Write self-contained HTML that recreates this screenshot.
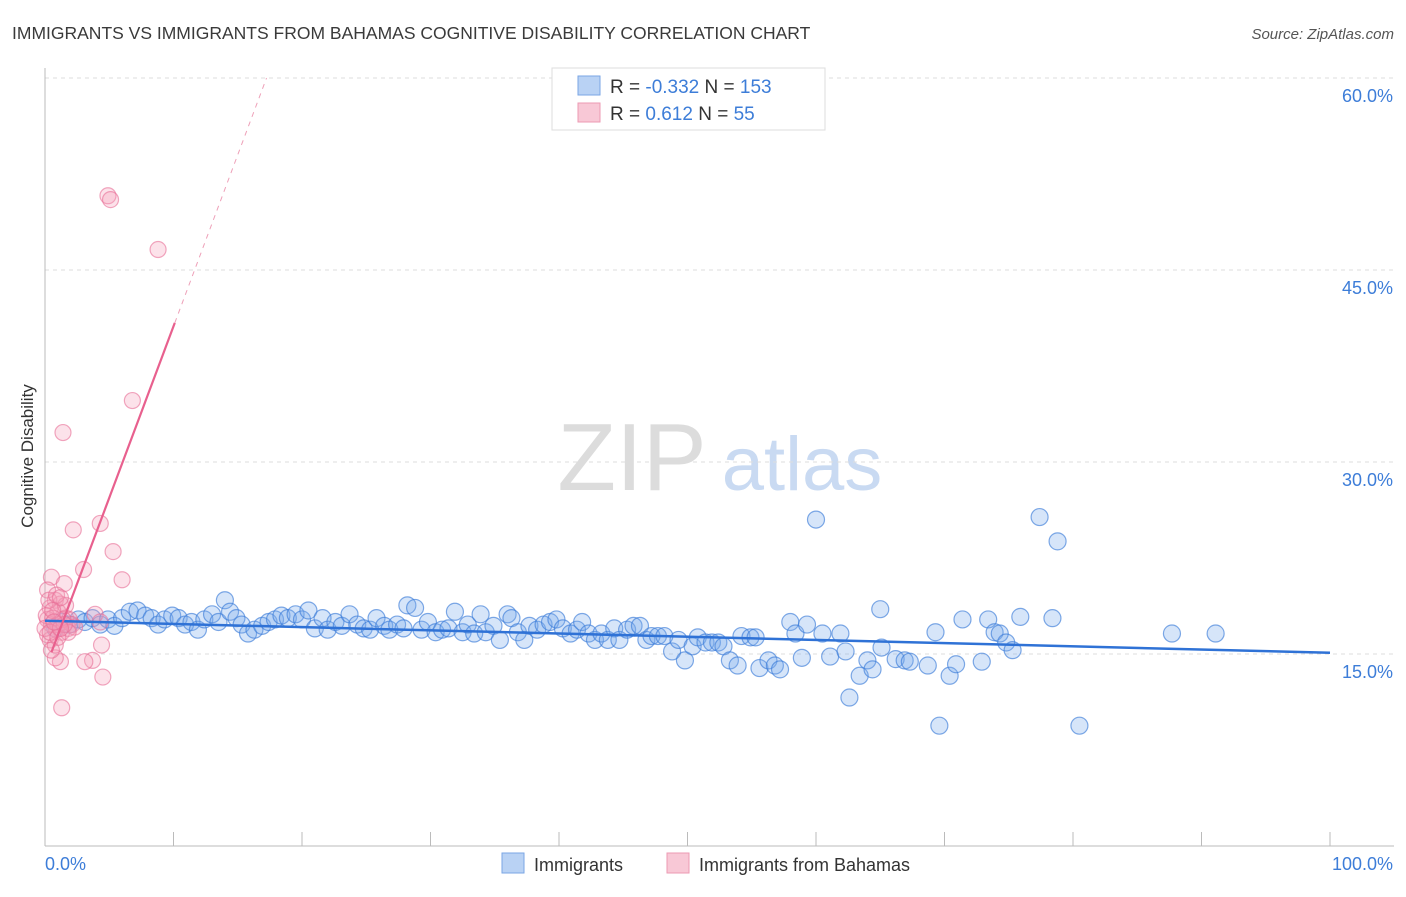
<!DOCTYPE html>
<html><head><meta charset="utf-8"><style>
body{margin:0;background:#fff;font-family:"Liberation Sans",sans-serif;}
svg text{font-family:"Liberation Sans",sans-serif;}
</style></head><body>
<svg width="1406" height="892" viewBox="0 0 1406 892">
<text x="12" y="39" font-size="17.5" fill="#3a3a3a">IMMIGRANTS VS IMMIGRANTS FROM BAHAMAS COGNITIVE DISABILITY CORRELATION CHART</text>
<text x="1394" y="39" font-size="15" fill="#555" font-style="italic" text-anchor="end">Source: ZipAtlas.com</text>
<g>
<text x="632" y="490" font-size="96" fill="#dcdcdc" font-family="Liberation Serif, serif" text-anchor="middle">ZIP</text>
<text x="802" y="490" font-size="76" fill="#c9daf2" text-anchor="middle">atlas</text>
</g>
<g id="grid"></g>
<g id="axes"></g>
<g id="pts"></g>
<g id="trend"></g>
<text transform="translate(33,456) rotate(-90)" font-size="17" fill="#333" text-anchor="middle">Cognitive Disability</text>
<g>
<rect x="552" y="68" width="273" height="62" fill="#fff" stroke="#ddd"/>
<rect x="578" y="76" width="22" height="19" fill="#b9d2f4" stroke="#7aa6e4"/>
<rect x="578" y="103" width="22" height="19" fill="#f8c8d6" stroke="#ec9ab3"/>
<text x="610" y="93" font-size="19" fill="#333">R = <tspan fill="#3d7dd8">-0.332</tspan>   N = <tspan fill="#3d7dd8">153</tspan></text>
<text x="610" y="120" font-size="19" fill="#333">R =   <tspan fill="#3d7dd8">0.612</tspan>   N =   <tspan fill="#3d7dd8">55</tspan></text>
</g>
<g>
<rect x="502" y="853" width="22" height="20" fill="#b9d2f4" stroke="#7aa6e4"/>
<text x="534" y="871" font-size="18" fill="#333">Immigrants</text>
<rect x="667" y="853" width="22" height="20" fill="#f8c8d6" stroke="#ec9ab3"/>
<text x="699" y="871" font-size="18" fill="#333">Immigrants from Bahamas</text>
</g>
</svg>
<script>
const yTicks=[15,30,45,60];
const yTickLabels=["15.0%","30.0%","45.0%","60.0%"];
const xTickLabels=["0.0%","100.0%"];
const blueX=[0.8,1.3,1.9,2.6,3.1,3.7,4.3,4.9,5.4,6.0,6.6,7.2,7.8,8.3,8.8,9.3,9.9,10.4,10.9,11.4,11.9,12.4,13.0,13.5,14.0,14.4,14.9,15.3,15.8,16.3,16.9,17.4,17.9,18.4,18.9,19.5,20.0,20.5,21.0,21.6,22.0,22.6,23.1,23.7,24.3,24.8,25.3,25.8,26.4,26.8,27.4,27.9,28.2,28.8,29.3,29.8,30.4,30.9,31.4,31.9,32.5,32.9,33.4,33.9,34.3,34.9,35.4,36.0,36.3,36.8,37.3,37.7,38.3,38.8,39.3,39.8,40.3,40.9,41.4,41.8,42.3,42.8,43.3,43.8,44.3,44.7,45.3,45.8,46.3,46.8,47.2,47.7,48.2,48.8,49.3,49.8,50.4,50.8,51.4,51.9,52.4,52.8,53.3,53.9,54.2,54.9,55.3,55.6,56.3,56.8,57.2,58.0,58.4,58.9,59.3,60.0,60.5,61.1,61.9,62.3,62.6,63.4,64.0,64.4,65.0,65.1,66.2,66.9,67.3,68.7,69.3,69.6,70.4,70.9,71.4,72.9,73.4,73.9,74.3,74.8,75.3,75.9,77.4,78.4,78.8,80.5,87.7,91.1];
const blueY=[17.0,17.5,17.3,17.7,17.5,17.8,17.3,17.7,17.2,17.8,18.3,18.4,18.0,17.8,17.3,17.7,18.0,17.8,17.3,17.5,16.9,17.7,18.1,17.5,19.2,18.3,17.8,17.3,16.6,16.9,17.2,17.5,17.7,18.0,17.8,18.1,17.7,18.4,17.0,17.8,16.9,17.5,17.2,18.1,17.3,17.0,16.9,17.8,17.2,16.9,17.3,17.0,18.8,18.6,16.9,17.5,16.7,16.9,17.0,18.3,16.7,17.3,16.6,18.1,16.7,17.2,16.1,18.1,17.8,16.7,16.1,17.2,16.9,17.3,17.5,17.7,17.0,16.6,16.9,17.5,16.6,16.1,16.6,16.1,17.0,16.1,16.9,17.2,17.2,16.1,16.4,16.4,16.4,15.2,16.1,14.5,15.6,16.3,15.9,15.9,15.9,15.6,14.5,14.1,16.4,16.3,16.3,13.9,14.5,14.1,13.8,17.5,16.6,14.7,17.3,25.5,16.6,14.8,16.6,15.2,11.6,13.3,14.5,13.8,18.5,15.5,14.6,14.5,14.4,14.1,16.7,9.4,13.3,14.2,17.7,14.4,17.7,16.7,16.6,15.9,15.3,17.9,25.7,17.8,23.8,9.4,16.6,16.6];
const pinkX=[4.9,5.1,8.8,6.8,1.4,2.2,4.3,5.3,3.0,6.0,0.5,1.5,0.2,0.8,1.2,3.9,4.3,4.4,3.7,3.1,1.2,0.8,4.5,1.3,0.4,1.0,1.6,1.9,0.2,0.5,0.9,1.3,0.2,0.4,0.8,1.8,2.1,0.1,0.6,1.0,1.4,1.6,0.3,0.9,1.2,0.6,2.3,1.8,0.0,0.4,1.0,0.5,1.5,1.2,0.7];
const pinkY=[50.8,50.5,46.6,34.8,32.3,24.7,25.2,23.0,21.6,20.8,21.0,20.5,20.0,19.2,18.9,18.1,17.5,15.7,14.5,14.4,14.4,14.7,13.2,10.8,18.6,18.3,17.8,17.7,17.7,17.3,16.9,16.7,16.5,16.1,15.7,17.0,17.3,18.0,17.8,17.3,17.7,18.8,19.2,19.6,19.4,18.4,17.1,16.7,17.0,16.7,16.3,15.3,17.3,17.0,17.5];
const blueTrend=[17.6,15.1];
const pinkSlope=2.68, pinkIntercept=13.8;

const NS="http://www.w3.org/2000/svg";
const X=v=>45+v*12.85, Y=v=>846-v*12.8;
function mk(t,a,p){const e=document.createElementNS(NS,t);for(const k in a)e.setAttribute(k,a[k]);p.appendChild(e);return e;}
const grid=document.getElementById('grid'),axes=document.getElementById('axes'),pts=document.getElementById('pts'),tr=document.getElementById('trend');
yTicks.forEach((t,i)=>{
 const l=mk('line',{x1:45,x2:1394,y1:Y(t),y2:Y(t),stroke:'#ddd','stroke-dasharray':'4,4'},grid);
 
 
 const tx=mk('text',{x:1393,y:Y(t)+24,'font-size':18,fill:'#3d7dd8','text-anchor':'end'},grid);
 tx.textContent=yTickLabels[i];
 
 
});
const ya=mk('line',{x1:45,x2:45,y1:68,y2:846,stroke:'#bbb'},axes);


const xa=mk('line',{x1:45,x2:1394,y1:846,y2:846,stroke:'#bbb'},axes);


for(let i=1;i<=10;i++){
 const tk=mk('line',{x1:X(i*10),x2:X(i*10),y1:832,y2:846,stroke:'#bbb'},axes);
 
 
}
const xl0=mk('text',{x:45,y:870,'font-size':18,fill:'#3d7dd8'},axes);xl0.textContent=xTickLabels[0];


const xl1=mk('text',{x:1393,y:870,'font-size':18,fill:'#3d7dd8','text-anchor':'end'},axes);xl1.textContent=xTickLabels[1];


blueX.forEach((v,i)=>{
 const c=mk('circle',{cx:X(v),cy:Y(blueY[i]),r:8.5,fill:'rgba(120,170,235,0.3)',stroke:'rgba(60,125,216,0.65)','stroke-width':1.2},pts);
 
 
});
pinkX.forEach((v,i)=>{
 const c=mk('circle',{cx:X(v),cy:Y(pinkY[i]),r:8,fill:'rgba(245,160,185,0.3)',stroke:'rgba(232,110,150,0.6)','stroke-width':1.2},pts);
 
 
});
const bl=mk('line',{x1:X(0),y1:Y(blueTrend[0]),x2:X(100),y2:Y(blueTrend[1]),stroke:'#2f72d6','stroke-width':2.5},tr);


const xs=10.1, xe=(60-pinkIntercept)/pinkSlope;
const pl=mk('line',{x1:X(0.5),y1:Y(pinkIntercept+pinkSlope*0.5),x2:X(xs),y2:Y(pinkIntercept+pinkSlope*xs),stroke:'#e8608e','stroke-width':2.2},tr);


const pd=mk('line',{x1:X(xs),y1:Y(pinkIntercept+pinkSlope*xs),x2:X(xe),y2:Y(60),stroke:'#eea0b8','stroke-width':1,'stroke-dasharray':'5,5'},tr);


</script>
</body></html>
